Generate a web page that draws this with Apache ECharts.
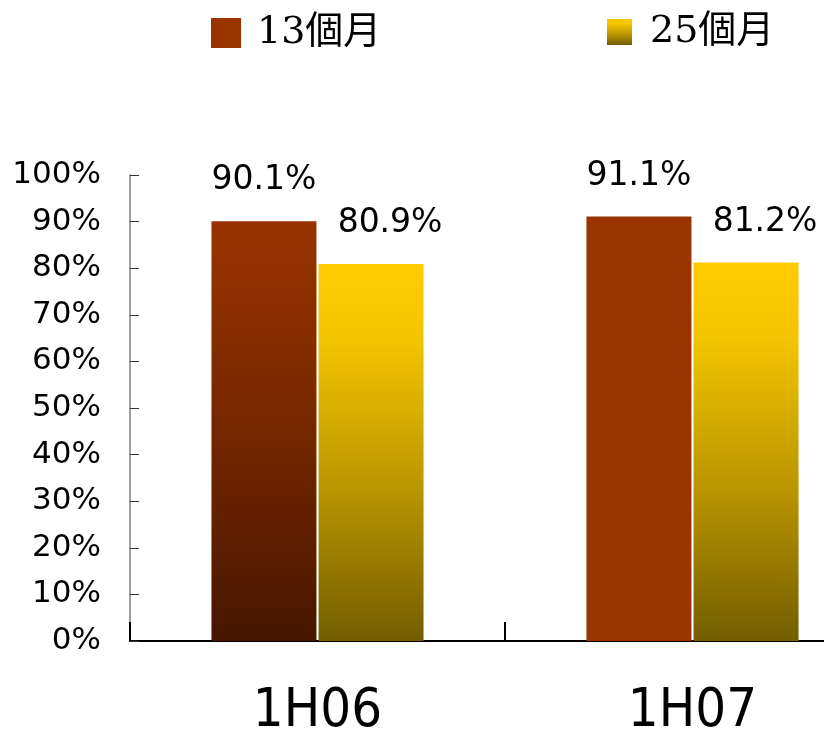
<!DOCTYPE html>
<html>
<head>
<meta charset="utf-8">
<script src="https://cdn.jsdelivr.net/npm/echarts@6/dist/echarts.min.js"></script>
<style>
  html, body { margin: 0; padding: 0; background: #fff; }
  #chart { width: 824px; height: 734px; }
</style>
</head>
<body>
<div id="chart"></div>
<script>
// 数据
const categories = ['1H06', '1H07'];
const seriesNames = ['13個月', '25個月'];
const month13 = [90.1, 91.1];
const month25 = [80.9, 81.2];
const yTicks = [0, 100, 10]; // min, max, interval

const chart = echarts.init(document.getElementById('chart'));

// 渐变色
const brownGrad = new echarts.graphic.LinearGradient(0, 0, 0, 1, [
  {offset: 0, color: '#993300'},
  {offset: 0.5, color: '#752700'},
  {offset: 1, color: '#471600'}
]);
const goldGrad = new echarts.graphic.LinearGradient(0, 0, 0, 1, [
  {offset: 0, color: '#ffcc00'},
  {offset: 0.2, color: '#f3c400'},
  {offset: 0.6, color: '#b99500'},
  {offset: 1, color: '#735d00'}
]);

const labelFont = {
  fontFamily: 'DejaVu Sans',
  fontSize: 33,
  color: '#000'
};

const legendText = {
  fontFamily: '"DejaVu Serif", "Noto Sans CJK TC", serif',
  fontSize: 38,
  color: '#000',
  padding: [0, 0, 0, 11]
};

const option = {
  animation: false,
  backgroundColor: '#fff',
  // 两个图例分开摆放（图标大小不同）
  legend: [
    {
      left: 211,
      top: 14,
      padding: 0,
      itemWidth: 30,
      itemHeight: 30,
      icon: 'rect',
      selectedMode: false,
      textStyle: legendText,
      data: [seriesNames[0]]
    },
    {
      left: 607,
      top: 13,
      padding: 0,
      itemWidth: 25,
      itemHeight: 26,
      icon: 'rect',
      selectedMode: false,
      textStyle: {...legendText, padding: [0, 0, 0, 13]},
      data: [seriesNames[1]]
    }
  ],
  grid: {
    left: 130,
    top: 175,
    bottom: 93,
    right: -56,
    outerBoundsMode: 'none'
  },
  xAxis: {
    type: 'category',
    data: categories,
    axisLine: {lineStyle: {color: '#000', width: 2}},
    axisTick: {show: true, inside: true, length: 19, lineStyle: {color: '#000', width: 2}},
    axisLabel: {
      margin: 44,
      fontFamily: '"Liberation Sans Narrow", "DejaVu Sans Condensed", sans-serif',
      fontSize: 54,
      color: '#000'
    }
  },
  yAxis: {
    type: 'value',
    min: yTicks[0],
    max: yTicks[1],
    interval: yTicks[2],
    splitLine: {show: false},
    axisLine: {show: true, lineStyle: {color: '#808080', width: 1.5}},
    axisTick: {show: true, inside: true, length: 9, lineStyle: {color: '#333', width: 1}},
    axisLabel: {
      margin: 29,
      formatter: '{value}%',
      fontFamily: 'DejaVu Sans',
      fontSize: 31,
      color: '#000'
    }
  },
  series: [
    {
      name: seriesNames[0],
      type: 'bar',
      barWidth: '28%',
      barGap: '2%',
      itemStyle: {color: '#993300'},
      // 1H06 用渐变, 1H07 用纯色
      data: month13.map((v, i) => i === 0 ? {value: v, itemStyle: {color: brownGrad}} : v),
      label: {
        show: true,
        position: 'top',
        distance: 24,
        formatter: (p) => p.value.toFixed(1) + '%',
        ...labelFont
      }
    },
    {
      name: seriesNames[1],
      type: 'bar',
      barWidth: '28%',
      itemStyle: {color: goldGrad},
      data: month25,
      label: {
        show: true,
        position: 'top',
        distance: 24,
        offset: [19, 0],
        formatter: (p) => p.value.toFixed(1) + '%',
        ...labelFont
      }
    }
  ]
};

chart.setOption(option);
</script>
</body>
</html>
